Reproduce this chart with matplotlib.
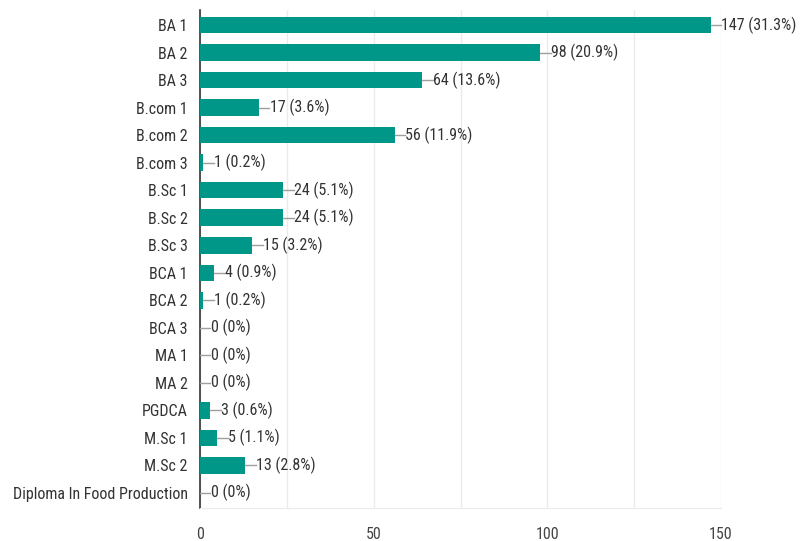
import matplotlib.pyplot as plt

plt.rcParams['font.family'] = ['Roboto Condensed', 'DejaVu Sans']

categories = ['BA 1', 'BA 2', 'BA 3', 'B.com 1', 'B.com 2', 'B.com 3',
              'B.Sc 1', 'B.Sc 2', 'B.Sc 3', 'BCA 1', 'BCA 2', 'BCA 3',
              'MA 1', 'MA 2', 'PGDCA', 'M.Sc 1', 'M.Sc 2',
              'Diploma In Food Production']
counts = [147, 98, 64, 17, 56, 1, 24, 24, 15, 4, 1, 0, 0, 0, 3, 5, 13, 0]
percents = ['31.3%', '20.9%', '13.6%', '3.6%', '11.9%', '0.2%', '5.1%', '5.1%',
            '3.2%', '0.9%', '0.2%', '0%', '0%', '0%', '0.6%', '1.1%', '2.8%', '0%']
xticks = [0, 50, 100, 150]

fig = plt.figure(figsize=(8.02, 5.41), dpi=100)
ax = fig.add_axes([0.2494, 0.061, 0.6496, 0.9205])

pos = list(range(len(categories)))
ax.barh(pos, counts, height=0.6, color='#009688', zorder=3)

# leader line + value label
for y, c, p in zip(pos, counts, percents):
    ax.plot([c, c + 3.0], [y, y], color='#9e9e9e', lw=1, zorder=3, clip_on=False)
    ax.text(c + 3.1, y, '%d (%s)' % (c, p), va='center', ha='left',
            fontsize=11.5, color='#333333', clip_on=False)

ax.set_xlim(0, 150)
ax.set_ylim(17.55, -0.55)
ax.set_yticks(pos)
ax.set_yticklabels(categories, fontsize=11.5, color='#333333')
ax.set_xticks(xticks)
ax.set_xticklabels([str(t) for t in xticks], fontsize=11.5, color='#444444')
ax.set_xticks([25, 75, 125], minor=True)

ax.grid(axis='x', which='both', color='#ebebeb', lw=1, zorder=0)
ax.tick_params(axis='both', which='both', length=0)
ax.tick_params(axis='y', pad=9)
ax.tick_params(axis='x', pad=14)

for s in ['top', 'right']:
    ax.spines[s].set_visible(False)
ax.spines['bottom'].set_color('#ebebeb')
ax.spines['left'].set_color('#333333')
ax.spines['left'].set_linewidth(1.2)

fig.savefig('out.png', dpi=100)
